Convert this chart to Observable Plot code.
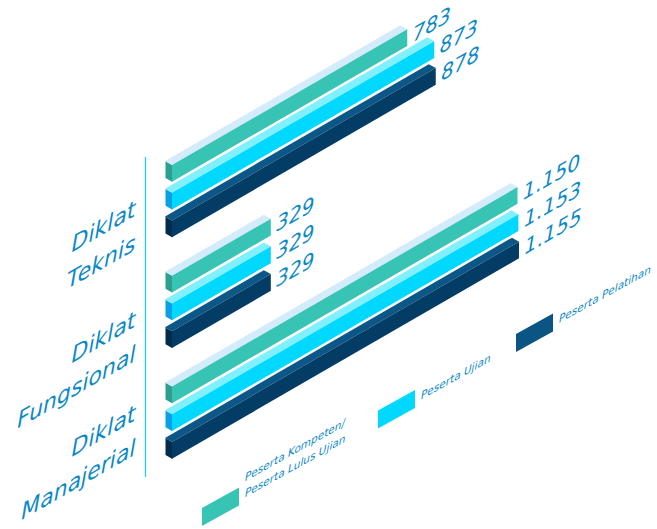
<!DOCTYPE html>
<html>
<head>
<meta charset="utf-8">
<script src="https://cdn.jsdelivr.net/npm/d3@7"></script>
<script src="https://cdn.jsdelivr.net/npm/@observablehq/plot@0.6"></script>
<style>
  html, body { margin: 0; padding: 0; background: #fff; }
  #wrap { position: relative; width: 657px; height: 529px; overflow: hidden; }
  #wrap svg { position: absolute; left: 0; top: 0; }
  #legend {
    position: absolute; left: 202px; bottom: 3px;
    display: flex; align-items: flex-end;
    transform: skewY(-29deg); transform-origin: 0 100%;
    font-family: "DejaVu Sans", sans-serif; font-style: italic; font-size: 10.5px;
    color: #0a88c8; white-space: nowrap;
  }
  #legend .item { display: flex; align-items: flex-end; flex: none; }
  #legend .sw { width: 37px; height: 18px; flex: none; }
  #legend .lab { margin-left: 6px; line-height: 16px; white-space: pre; padding-bottom: 1px; }
</style>
</head>
<body>
<div id="wrap"><div id="legend"></div></div>
<script>
// ---- data ----
const groups = ["Diklat Teknis", "Diklat Fungsional", "Diklat Manajerial"];
const groupLines = ["Diklat\nTeknis", "Diklat\nFungsional", "Diklat\nManajerial"];
const seriesNames = ["Peserta Kompeten/\nPeserta Lulus Ujian", "Peserta Ujian", "Peserta Pelatihan"];
const kompeten = [783, 329, 1150];
const ujian = [873, 329, 1153];
const pelatihan = [878, 329, 1155];

// ---- styles / layout ----
const frontColors = ["#38c4b4", "#00d8ff", "#033c64"];
const topColors = ["#d4ebfb", "#80f0ff", "#0b5787"];
const endColors = ["#2c9f8f", "#0aa1e4", "#022c4b"];
const legendColors = ["#38c4b4", "#00d8ff", "#0b5585"];
const legendWidths = [176, 138, null];
const groupLabelDy = [3, 3, -14];
const textColor = "#0a88c8";
const FONT = "'DejaVu Sans', sans-serif";

const W = 657, H = 529;
const ML = 172, MR = 138, MT = 157, MB = 52;
const yRange = [157, 458.7];
const padIn = 0.107;
const TOPH = 8;            // thickness of a bar's top face (flat space)
const ENDW = 7;            // horizontal width of a bar's left end face
const ENDRISE = 4;         // vertical rise of the end face
const T = Math.tan(Math.PI / 6);

const fmt = d3.formatLocale({decimal: ",", thousands: ".", grouping: [3], currency: ["Rp", ""]}).format(",d");

const seriesArrays = [kompeten, ujian, pelatihan];
const rows = [];
groups.forEach((g, gi) => {
  seriesArrays.forEach((arr, si) => {
    rows.push({group: g, gi, si, key: `${gi}-${si}`, value: arr[gi], label: fmt(arr[gi])});
  });
});
const yDomain = [];
groups.forEach((g, gi) => {
  if (gi) yDomain.push(`gap-${gi}`);
  seriesNames.forEach((s, si) => yDomain.push(`${gi}-${si}`));
});
const groupRows = groups.map((g, gi) => ({gi, key: `${gi}-1`, text: groupLines[gi]}));

const bw = d3.scaleBand().domain(yDomain).range(yRange).paddingInner(padIn).paddingOuter(0).bandwidth();

const chart = Plot.plot({
  width: W, height: H,
  marginLeft: ML, marginRight: MR, marginTop: MT, marginBottom: MB,
  x: {domain: [0, d3.max(rows, d => d.value)], axis: null},
  y: {type: "band", domain: yDomain, range: yRange, paddingInner: padIn, paddingOuter: 0, round: false, axis: null},
  color: {type: "identity"},
  style: {background: "transparent", fontFamily: FONT, overflow: "hidden"},
  marks: [
    Plot.ruleX([0], {dx: -27, stroke: "#1fd0f5", strokeWidth: 1.3}),
    Plot.tickX(rows, {x: 0, y: "key", stroke: d => endColors[d.si], strokeWidth: ENDW, dx: -ENDW / 2, insetTop: TOPH}),
    Plot.barX(rows, {x: "value", y: "key", fill: d => topColors[d.si], insetBottom: bw - TOPH}),
    Plot.barX(rows, {x: "value", y: "key", fill: d => frontColors[d.si], insetTop: TOPH}),
    Plot.text(rows, {x: "value", y: "key", text: "label", textAnchor: "start", dx: 5, dy: 5,
      fill: textColor, fontSize: 20, fontStyle: "italic"}),
    ...groupRows.map(g => Plot.text([g], {x: 0, y: "key", text: "text", textAnchor: "end", dx: -37, dy: groupLabelDy[g.gi],
      lineHeight: 1.55, fill: textColor, fontSize: 22, fontStyle: "italic"}))
  ]
});

document.getElementById("wrap").prepend(chart);

// ---- isometric projection of the flat chart ----
const layers = Array.from(chart.querySelectorAll(":scope > g"));
const [axisG, endG, topG, frontG, ...textGs] = layers;
const skewFront = `matrix(1,${-T},0,1,0,${ML * T})`;
const skewEnd = `matrix(1,${ENDRISE / ENDW},0,1,0,${-ML * ENDRISE / ENDW})`;
function prepend(g, t) { if (g) g.setAttribute("transform", t + " " + (g.getAttribute("transform") || "")); }
prepend(endG, skewEnd);
prepend(topG, skewFront);
prepend(frontG, skewFront);
textGs.forEach(g => prepend(g, skewFront));
if (topG) topG.querySelectorAll("rect").forEach(r => {
  const y = +r.getAttribute("y"), h = +r.getAttribute("height");
  const s = ENDW / h;
  r.setAttribute("transform", `matrix(1,0,${s},1,${-s * (y + h)},0)`);
});

// ---- legend ----
const legend = d3.select("#legend");
seriesNames.forEach((s, i) => {
  const item = legend.append("div").attr("class", "item");
  if (legendWidths[i]) item.style("width", legendWidths[i] + "px");
  item.append("div").attr("class", "sw").style("background", legendColors[i]);
  item.append("div").attr("class", "lab").text(s);
});
</script>
</body>
</html>
